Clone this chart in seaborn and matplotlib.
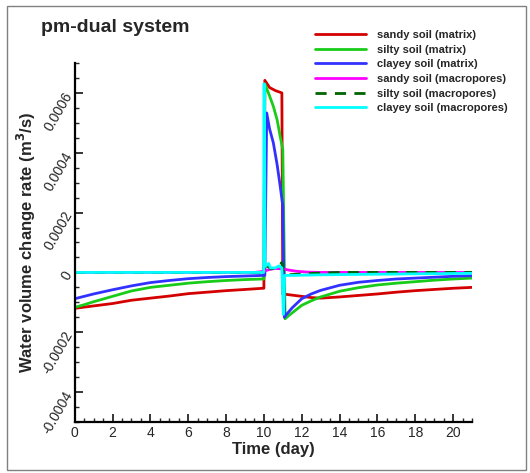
import matplotlib
matplotlib.use("Agg")
import matplotlib.pyplot as plt
import matplotlib.patches as mpatches
from matplotlib.ticker import MultipleLocator
import pandas as pd
import seaborn as sns

# ---- data (values in 1e-6 m^3/s) ----
sandy_matrix_t = [0, 0.5, 1, 2, 3, 4, 5, 6, 7, 8, 9, 9.95, 10.0, 10.05, 10.3, 10.6, 10.95, 11.0, 11.5, 12, 12.5, 13, 14, 15, 16, 17, 18, 19, 20, 21]
sandy_matrix_v = [-120, -116, -112, -104, -93, -86, -79, -71, -66, -61, -57, -53, -53, 642, 618, 608, 600, -72, -76, -80, -84, -86, -82, -77, -72, -66, -61, -57, -53, -50]

silty_matrix_t = [0, 0.5, 1, 2, 3, 4, 5, 6, 7, 8, 9, 9.95, 10.0, 10.05, 10.3, 10.5, 10.7, 10.86, 11.0, 11.12, 11.3, 11.6, 12, 12.5, 13, 14, 15, 16, 17, 18, 19, 20, 21]
silty_matrix_v = [-117, -108, -98, -80, -62, -50, -43, -36, -31, -27, -24, -22, -22, 630, 590, 555, 510, 455, 410, -155, -145, -130, -110, -95, -82, -63, -51, -42, -36, -31, -26, -22, -19]

clayey_matrix_t = [0, 0.5, 1, 2, 3, 4, 5, 6, 7, 8, 9, 9.95, 10.05, 10.15, 10.3, 10.5, 10.7, 10.86, 11.0, 11.08, 11.2, 11.5, 12, 12.5, 13, 14, 15, 16, 17, 18, 19, 20, 21]
clayey_matrix_v = [-88, -80, -72, -58, -45, -34, -27, -21, -17, -14, -12, -10, -10, 533, 480, 433, 360, 289, 222, -150, -140, -118, -88, -72, -60, -43, -33, -27, -22, -19, -16, -13, -11]

sandy_macro_t = [0, 9.5, 9.8, 10.0, 10.3, 10.6, 11.0, 11.3, 11.7, 12.3, 13, 21]
sandy_macro_v = [0, 0, 2, 4, 10, 13, 12, 8, 4, 1, 0, 0]

silty_macro_t = [0, 9.95, 10.05, 10.2, 10.35, 10.7, 10.95, 11.05, 11.3, 12, 13, 14, 21]
silty_macro_v = [0, 0, 5, 25, 12, 15, 33, -5, -8, -5, -2, 0, 0]

clayey_macro_t = [0, 9.99, 10.0, 10.03, 10.06, 10.25, 10.35, 10.6, 10.8, 10.95, 11.03, 11.1, 11.5, 13, 16, 21]
clayey_macro_v = [0, 0, 630, 630, 20, 30, 15, 15, 22, 15, -140, -10, -10, -8, -6, -3]

series_labels = ["sandy soil (matrix)", "silty soil (matrix)", "clayey soil (matrix)",
                 "sandy soil (macropores)", "silty soil (macropores)", "clayey soil (macropores)"]

y_ticks = [-0.0004, -0.0002, 0, 0.0002, 0.0004, 0.0006]
y_tick_labels = ["-0.0004", "-0.0002", "0", "0.0002", "0.0004", "0.0006"]
x_ticks = [0, 2, 4, 6, 8, 10, 12, 14, 16, 18, 20]

# ---- styling ----
sns.set_style("ticks")
plt.rcParams["font.family"] = ["Liberation Sans", "DejaVu Sans"]

# (time, value, colour, linestyle, label index) in drawing order
series = [
    (sandy_matrix_t, sandy_matrix_v, "#d40000", "-", 0),
    (silty_matrix_t, silty_matrix_v, "#19cc19", "-", 1),
    (clayey_matrix_t, clayey_matrix_v, "#3232ff", "-", 2),
    (sandy_macro_t, sandy_macro_v, "#ff00ff", "-", 3),
    (silty_macro_t, silty_macro_v, "#006400", (0, (4, 3)), 4),
    (clayey_macro_t, clayey_macro_v, "#00ffff", "-", 5),
]

fig = plt.figure(figsize=(5.30, 4.73), dpi=100)
ax = fig.add_axes([74.7 / 530, 1 - 422 / 473, (472 - 74.7) / 530, (422 - 63) / 473])

handles = [None] * len(series_labels)
for t, v, color, ls, idx in series:
    df = pd.DataFrame({"t": t, "q": [x * 1e-6 for x in v]})
    sns.lineplot(data=df, x="t", y="q", ax=ax, color=color, lw=2.0,
                 linestyle=ls, estimator=None, sort=False)
    handles[idx] = ax.get_lines()[-1]

ax.set_xlim(0, 21)
ax.set_ylim(-0.0005, 0.0007)
ax.set_xticks(x_ticks)
ax.set_xticklabels([str(x) for x in x_ticks], fontsize=10)
ax.set_yticks(y_ticks)
ax.set_yticklabels(y_tick_labels, fontsize=10, rotation=60, ha="right", va="center",
                   rotation_mode="anchor")
ax.xaxis.set_minor_locator(MultipleLocator(0.5))
ax.yaxis.set_minor_locator(MultipleLocator(0.00005))
ax.tick_params(which="major", direction="in", length=6, width=1.3, pad=4)
ax.tick_params(which="minor", direction="in", length=3, width=1.0)
ax.tick_params(axis="x", pad=3)

for side in ("top", "right"):
    ax.spines[side].set_visible(False)
for side in ("left", "bottom"):
    ax.spines[side].set_linewidth(1.6)
    ax.spines[side].set_color("black")

ax.set_xlabel("Time (day)", fontsize=12, fontweight="bold", labelpad=1)
ax.set_ylabel("Water volume change rate (m$^\\mathbf{3}$/s)", fontsize=12,
              fontweight="bold", labelpad=1)

fig.text(41 / 530, 1 - 27 / 473, "pm-dual system", fontsize=14, fontweight="bold",
         va="center", ha="left")

leg = fig.legend(handles, series_labels,
                 loc="upper left", bbox_to_anchor=(315 / 530, 1 - 30 / 473),
                 frameon=False, fontsize=8, handlelength=4.6, handletextpad=1.0,
                 labelspacing=0.42, borderpad=0, borderaxespad=0)
for txt in leg.get_texts():
    txt.set_fontweight("bold")

# outer frame around the figure
fig.patches.append(mpatches.Rectangle((7 / 530, 1 - 470 / 473), (526 - 7) / 530, (470 - 6) / 473,
                                      transform=fig.transFigure, fill=False,
                                      edgecolor="#808080", lw=1.0))

fig.savefig("out.png", dpi=100)
